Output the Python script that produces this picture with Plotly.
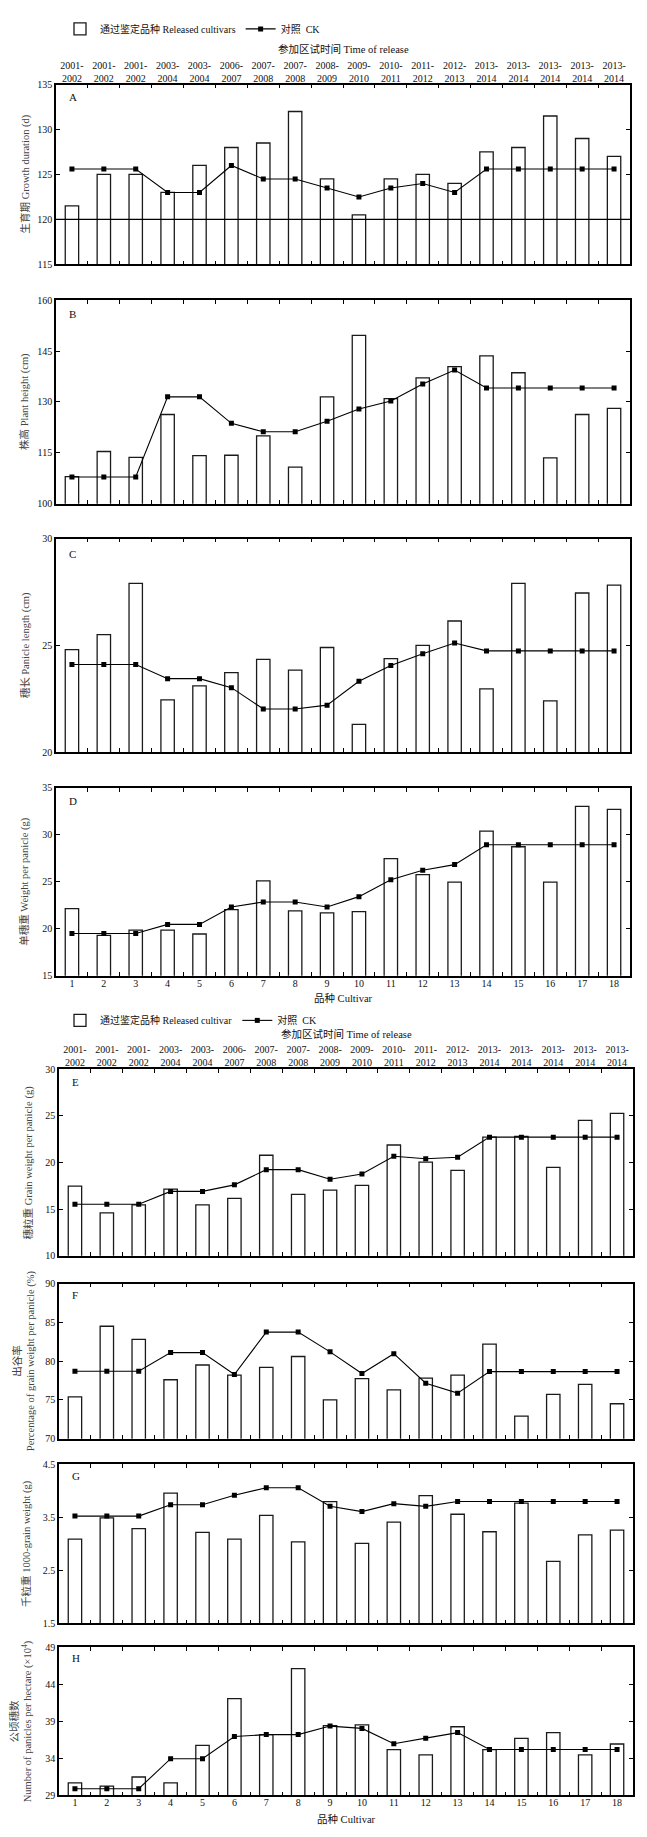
import plotly.graph_objects as go

# ---------------- data ----------------
cultivars = list(range(1, 19))
release_years = ["2001-2002", "2001-2002", "2001-2002", "2003-2004", "2003-2004", "2006-2007",
                 "2007-2008", "2007-2008", "2008-2009", "2009-2010", "2010-2011", "2011-2012",
                 "2012-2013", "2013-2014", "2013-2014", "2013-2014", "2013-2014", "2013-2014"]

growth_rel = [121.5, 125, 125, 123, 126, 128, 128.5, 132, 124.5, 120.5, 124.5, 125, 124, 127.5, 128, 131.5, 129, 127]
growth_ck = [125.6, 125.6, 125.6, 123, 123, 126, 124.5, 124.5, 123.5, 122.5, 123.5, 124, 123, 125.6, 125.6, 125.6, 125.6, 125.6]
growth_ref = 120

height_rel = [108, 115.4, 113.7, 126.3, 114.2, 114.3, 120, 110.8, 131.5, 149.6, 131, 137.1, 140.4, 143.6, 138.6, 113.5, 126.3, 128.1]
height_ck = [107.9, 107.9, 107.9, 131.5, 131.5, 123.7, 121.2, 121.2, 124.3, 127.9, 130.3, 135.3, 139.4, 134.1, 134.1, 134.1, 134.1, 134.1]

panicle_len_rel = [24.8, 25.5, 27.9, 22.45, 23.1, 23.72, 24.34, 23.84, 24.9, 21.3, 24.38, 25.0, 26.14, 22.96, 27.9, 22.4, 27.45, 27.82]
panicle_len_ck = [24.1, 24.1, 24.1, 23.44, 23.44, 23.02, 22.02, 22.02, 22.2, 23.32, 24.06, 24.61, 25.11, 24.74, 24.74, 24.74, 24.74, 24.74]

panicle_wt_rel = [22.15, 19.3, 19.86, 19.86, 19.44, 22.04, 25.1, 21.9, 21.69, 21.83, 27.46, 25.77, 24.96, 30.39, 28.73, 24.96, 33.03, 32.71]
panicle_wt_ck = [19.5, 19.5, 19.5, 20.46, 20.46, 22.32, 22.85, 22.85, 22.32, 23.42, 25.21, 26.23, 26.83, 28.94, 28.94, 28.94, 28.94, 28.94]

grain_wt_rel = [17.46, 14.6, 15.46, 17.15, 15.46, 16.16, 20.77, 16.58, 17.04, 17.54, 21.87, 20.04, 19.15, 22.71, 22.78, 19.47, 24.5, 25.25]
grain_wt_ck = [15.53, 15.53, 15.53, 16.9, 16.9, 17.6, 19.23, 19.23, 18.2, 18.77, 20.67, 20.39, 20.56, 22.71, 22.71, 22.71, 22.71, 22.71]

grain_pct_rel = [75.4, 84.5, 82.8, 77.6, 79.5, 78.2, 79.2, 80.6, 75.0, 77.75, 76.3, 77.8, 78.2, 82.2, 72.9, 75.7, 77.0, 74.5]
grain_pct_ck = [78.7, 78.7, 78.7, 81.1, 81.1, 78.27, 83.75, 83.75, 81.2, 78.4, 80.96, 77.15, 75.87, 78.65, 78.65, 78.65, 78.65, 78.65]

kgw_rel = [3.09, 3.49, 3.29, 3.96, 3.22, 3.09, 3.54, 3.04, 3.8, 3.01, 3.41, 3.91, 3.56, 3.23, 3.77, 2.67, 3.17, 3.26]
kgw_ck = [3.525, 3.525, 3.525, 3.74, 3.74, 3.92, 4.06, 4.06, 3.71, 3.61, 3.76, 3.71, 3.8, 3.8, 3.8, 3.8, 3.8, 3.8]

panicles_rel = [30.68, 30.24, 31.47, 30.68, 35.75, 42.06, 37.2, 46.1, 38.4, 38.5, 35.18, 34.47, 38.26, 35.18, 36.68, 37.47, 34.47, 35.93]
panicles_ck = [29.88, 29.88, 29.88, 33.94, 33.94, 36.94, 37.2, 37.2, 38.35, 38.04, 35.97, 36.72, 37.47, 35.18, 35.18, 35.18, 35.18, 35.18]

letters = ["A", "B", "C", "D", "E", "F", "G", "H"]
y_titles = ["生育期 Growth duration (d)", "株高 Plant height (cm)", "穗长 Panicle length (cm)",
            "单穗重 Weight per panicle (g)", "穗粒重 Grain weight per panicle (g)",
            "出谷率<br>Percentage of grain weight per panicle (%)",
            "千粒重 1000-grain weight (g)", "公顷穗数<br>Number of panicles per hectare (×10<sup>4</sup>)"]
y_ranges = [(115, 135), (100, 160), (20, 30), (15, 35), (10, 30), (70, 90), (1.5, 4.5), (29, 49)]
y_dticks = [5, 15, 5, 5, 5, 5, 1, 5]
rel_series = [growth_rel, height_rel, panicle_len_rel, panicle_wt_rel, grain_wt_rel, grain_pct_rel, kgw_rel, panicles_rel]
ck_series = [growth_ck, height_ck, panicle_len_ck, panicle_wt_ck, grain_wt_ck, grain_pct_ck, kgw_ck, panicles_ck]

legend_names_1 = ("通过鉴定品种 Released cultivars", "对照  CK")
legend_names_2 = ("通过鉴定品种 Released cultivar", "对照  CK")
x_title = "品种 Cultivar"
top_title = "参加区试时间 Time of release"

# ---------------- layout constants (pixels) ----------------
W, H = 647, 1837
panel_px = [(71, 252), (288, 493), (528, 743), (779, 968), (1062, 1250), (1278, 1434), (1460, 1620), (1644, 1793)]
x_px = [(48, 622)] * 4 + [(51, 625)] * 4
ytitle_x_px = [17, 17, 17, 17, 20, 16, 19, 13]

FONT = "Liberation Serif, Times New Roman, Noto Sans CJK SC, serif"


def py(p):
    return 1 - p / H


def px(p):
    return p / W


def xn(n):
    return "x" if n == 1 else f"x{n}"


def yn(n):
    return "y" if n == 1 else f"y{n}"


def xkey(n):
    return "xaxis" if n == 1 else f"xaxis{n}"


def ykey(n):
    return "yaxis" if n == 1 else f"yaxis{n}"


fig = go.Figure()
boundaries = [c + 0.5 for c in cultivars[:-1]]
layout = {}
annotations = []

for i in range(8):
    n = i + 1
    xa, ya = xn(n), yn(n)
    legend_id = "legend" if i < 4 else "legend2"
    names = legend_names_1 if i < 4 else legend_names_2
    show = i in (0, 4)
    fig.add_trace(go.Bar(x=cultivars, y=rel_series[i], xaxis=xa, yaxis=ya, width=0.42,
                         marker=dict(color="white", line=dict(color="#1a1a1a", width=1.3)),
                         name=names[0], showlegend=show, legend=legend_id))
    fig.add_trace(go.Scatter(x=cultivars, y=ck_series[i], xaxis=xa, yaxis=ya, mode="lines+markers",
                             line=dict(color="black", width=1.1),
                             marker=dict(symbol="square", size=5, color="black"),
                             name=names[1], showlegend=show, legend=legend_id))
    t, b = panel_px[i]
    l, r = x_px[i]
    layout[xkey(n)] = dict(domain=[px(l), px(r)], anchor=ya, range=[0.5, 18.5],
                           tickvals=boundaries, ticks="inside", ticklen=4, tickwidth=1,
                           tickcolor="black", showticklabels=False, showline=True,
                           linecolor="black", linewidth=1.5, mirror="ticks",
                           showgrid=False, zeroline=False)
    lo, hi = y_ranges[i]
    layout[ykey(n)] = dict(domain=[py(b), py(t)], anchor=xa, range=[lo, hi], tick0=lo,
                           dtick=y_dticks[i], ticks="inside", ticklen=4, tickwidth=1,
                           tickcolor="black", showline=True, linecolor="black", linewidth=1.5,
                           mirror="ticks", showgrid=False, zeroline=False,
                           tickfont=dict(family=FONT, size=10, color="#111"))
    annotations.append(dict(text=letters[i], xref=f"{xa} domain", yref=f"{ya} domain",
                            x=0.02, y=0.93, xanchor="left", yanchor="middle", showarrow=False,
                            font=dict(family=FONT, size=11, color="#111")))
    annotations.append(dict(text=y_titles[i], xref="paper", yref="paper", x=px(ytitle_x_px[i]),
                            y=py((t + b) / 2), textangle=-90, showarrow=False,
                            xanchor="center", yanchor="middle",
                            font=dict(family=FONT, size=10.5, color="#444")))

# label axes: bottom cultivar numbers (D, H), top release years (A, E)
label_axes = [(9, 4, "bottom", [str(c) for c in cultivars]),
              (10, 8, "bottom", [str(c) for c in cultivars]),
              (11, 1, "top", [y.replace("-", "-<br>") for y in release_years]),
              (12, 5, "top", [y.replace("-", "-<br>") for y in release_years])]
for n, base, side, texts in label_axes:
    layout[xkey(n)] = dict(overlaying=xn(base), anchor=yn(base), side=side, range=[0.5, 18.5],
                           tickvals=cultivars, ticktext=texts, ticks="", showline=False,
                           showgrid=False, zeroline=False,
                           tickfont=dict(family=FONT, size=10, color="#111"))
    fig.add_trace(go.Scatter(x=cultivars, y=[None] * len(cultivars), xaxis=xn(n), yaxis=yn(base),
                             mode="markers", showlegend=False, hoverinfo="skip"))

# x titles under D and H, "time of release" titles above A and E
for base, ypix in ((4, 990), (8, 1817)):
    l, r = x_px[base - 1]
    annotations.append(dict(text=x_title, xref="paper", yref="paper", x=px((l + r) / 2), y=py(ypix),
                            showarrow=False, xanchor="center", yanchor="middle",
                            font=dict(family=FONT, size=10.5, color="#111")))
for base, ypix in ((1, 35), (5, 1027)):
    l, r = x_px[base - 1]
    annotations.append(dict(text=top_title, xref="paper", yref="paper", x=px((l + r) / 2), y=py(ypix),
                            showarrow=False, xanchor="center", yanchor="middle",
                            font=dict(family=FONT, size=10.5, color="#111")))

fig.update_layout(**layout)
fig.add_shape(type="line", xref="x domain", yref="y", x0=0, x1=1, y0=growth_ref, y1=growth_ref,
              line=dict(color="black", width=1.2), layer="above")

fig.update_layout(
    width=W, height=H, autosize=False,
    margin=dict(l=0, r=0, t=0, b=0),
    paper_bgcolor="white", plot_bgcolor="white",
    annotations=annotations,
    legend=dict(orientation="h", x=px(52), y=py(15), xanchor="left", yanchor="middle",
                font=dict(family=FONT, size=10, color="#111"), bgcolor="rgba(0,0,0,0)",
                tracegroupgap=0),
    legend2=dict(orientation="h", x=px(52), y=py(1013), xanchor="left", yanchor="middle",
                 font=dict(family=FONT, size=10, color="#111"), bgcolor="rgba(0,0,0,0)",
                 tracegroupgap=0),
    showlegend=True,
)

fig.write_html("out.html")
